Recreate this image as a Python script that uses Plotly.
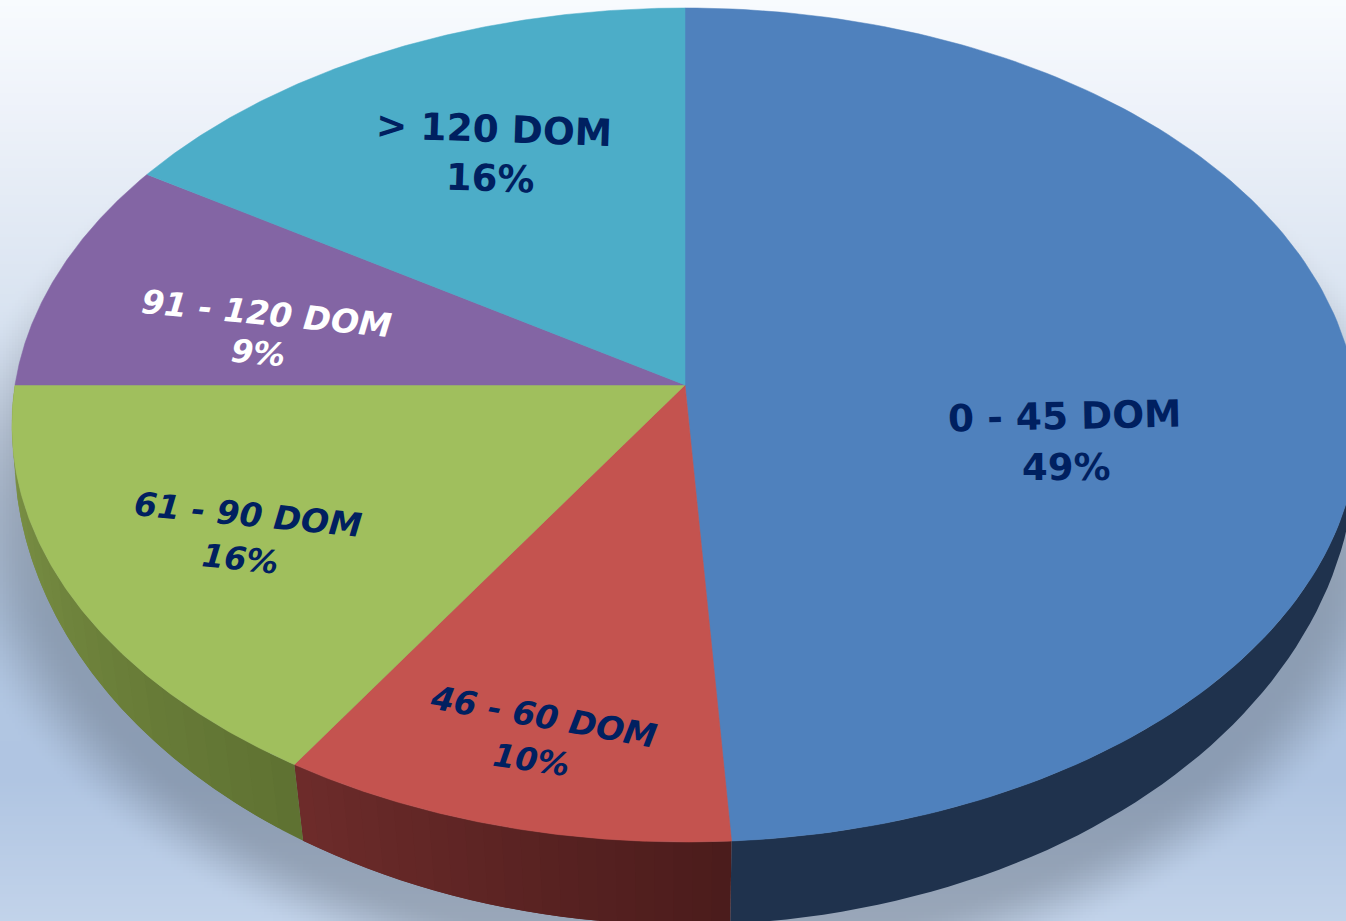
import numpy as np
import plotly.graph_objects as go

# ---- data ----
categories = ["0 - 45 DOM", "46 - 60 DOM", "61 - 90 DOM", "91 - 120 DOM", "> 120 DOM"]
values = [49, 10, 16, 9, 16]
pct_labels = ["49%", "10%", "16%", "9%", "16%"]

# ---- styles ----
top_colors = ["#4F81BD", "#C4534F", "#A0BF5D", "#8365A4", "#4CADC8"]
wall_left = ["#1F324D", "#6E2C2B", "#7F9648"]
wall_right = ["#1F324D", "#4B1C1C", "#5F7232"]
label_colors = ["#002060", "#002060", "#002060", "#FFFFFF", "#002060"]
label_italic = [False, True, True, True, False]
name_pos = [(1064, 416), (543, 716), (248, 514), (266, 313), (494, 129)]
pct_pos = [(1066, 467), (531, 760), (240, 559), (258, 353), (490, 178)]
angles = [-1.2, 10, 5.5, 5.6, 2]
pct_angles = [0, 8, 6, 5, 2]
W, H = 1346, 921

# ---- projection of the disc ----
def top_rim(t):
    u, v = np.sin(t), np.cos(t)
    d = 1 + 0.0959 * v
    return 685 + 670 * u / d, 385 - 413.2 * v / d

def low_rim(t):
    u, v = np.sin(t), np.cos(t)
    d = 1 + 0.0726 * v
    return 685 + 669 * u / d, 417.6 - 470.4 * v / d

def hex2rgb(c):
    return np.array([int(c[i:i + 2], 16) for i in (1, 3, 5)], float)

# ---- background: vertical gradient and soft shadow ----
stops_y = [0, 100, 200, 300, 400, 500, 620, 780, 921]
stops_c = ["#F8FBFE", "#EFF3FA", "#E4EBF5", "#DAE4F1", "#CEDBED", "#BFD0E7", "#B2C7E2", "#B0C5E2", "#C2D3EA"]
STEP = 3
ys = np.arange(STEP / 2, H, STEP)
xs = np.arange(STEP / 2, W, STEP)
rgb = np.array([hex2rgb(c) for c in stops_c])
col = np.stack([np.interp(ys, stops_y, rgb[:, i]) for i in range(3)], axis=1)
gx, gy = np.meshgrid(xs, ys)
r = np.sqrt(((gx - 685) / 700) ** 2 + ((gy - 512) / 460) ** 2)
s = np.clip((1.07 - r) / 0.14, 0, 1)
s = s * s * (3 - 2 * s)
shade = 1 - 0.21 * s
img = col[:, None, :] * shade[:, :, None]

fig = go.Figure()
fig.add_trace(go.Image(z=np.round(img).astype(int).tolist(), x0=STEP / 2, y0=STEP / 2, dx=STEP, dy=STEP,
                       colormodel="rgb", hoverinfo="skip"))

# ---- slices from the values ----
edges = np.cumsum([0] + values) / sum(values) * 2 * np.pi

# side walls: only the front half of the disc shows a wall
for i in range(3):
    a0, a1 = max(edges[i], np.pi * 0.49), min(edges[i + 1], np.pi * 1.51)
    n = 24 if wall_left[i] != wall_right[i] else 1
    seg = np.linspace(a0, a1, n + 1)
    c0, c1 = hex2rgb(wall_left[i]), hex2rgb(wall_right[i])
    for j in range(n):
        # each strip runs on to the end of the next one, so no seam shows through
        tt = np.linspace(seg[j], seg[min(j + 2, n)], 60 if n == 1 else 8)
        x1, y1 = top_rim(tt)
        x2, y2 = low_rim(tt[::-1])
        f = 1 - (j + 0.5) / n
        c = c0 * (1 - f) + c1 * f
        colr = "rgb(%d,%d,%d)" % tuple(c)
        fig.add_trace(go.Scatter(x=np.r_[x1, x2], y=np.r_[y1, y2], mode="lines", fill="toself",
                                 fillcolor=colr, line=dict(width=0), hoverinfo="skip"))

# top faces
for i in range(len(values)):
    tt = np.linspace(edges[i], edges[i + 1], 160)
    x, y = top_rim(tt)
    fig.add_trace(go.Scatter(x=np.r_[685, x, 685], y=np.r_[385, y, 385], mode="lines", fill="toself",
                             fillcolor=top_colors[i], line=dict(color=top_colors[i], width=0.5),
                             name=categories[i], hoverinfo="skip"))

# ---- labels ----
annotations = []
for i in range(len(values)):
    name_size = 33 if label_italic[i] else 37.5
    pct_size = 32 if label_italic[i] else 37
    for txt, pos, ang, size in ((categories[i], name_pos[i], angles[i], name_size),
                                (pct_labels[i], pct_pos[i], pct_angles[i], pct_size)):
        annotations.append(dict(x=pos[0], y=pos[1], xref="x", yref="y", text=txt, showarrow=False,
                                textangle=ang, xanchor="center", yanchor="middle",
                                font=dict(family="DejaVu Sans", size=size, color=label_colors[i], weight=700,
                                          style="italic" if label_italic[i] else "normal")))

fig.update_layout(width=W, height=H, margin=dict(l=0, r=0, t=0, b=0), showlegend=False,
                  paper_bgcolor="#C2D3EA", plot_bgcolor="#C2D3EA", annotations=annotations,
                  xaxis=dict(range=[0, W], visible=False, fixedrange=True),
                  yaxis=dict(range=[H, 0], visible=False, fixedrange=True))

fig.write_html("out.html", config=dict(displayModeBar=False, responsive=False),
               post_script="document.body.style.margin='0';document.body.style.overflow='hidden';")
